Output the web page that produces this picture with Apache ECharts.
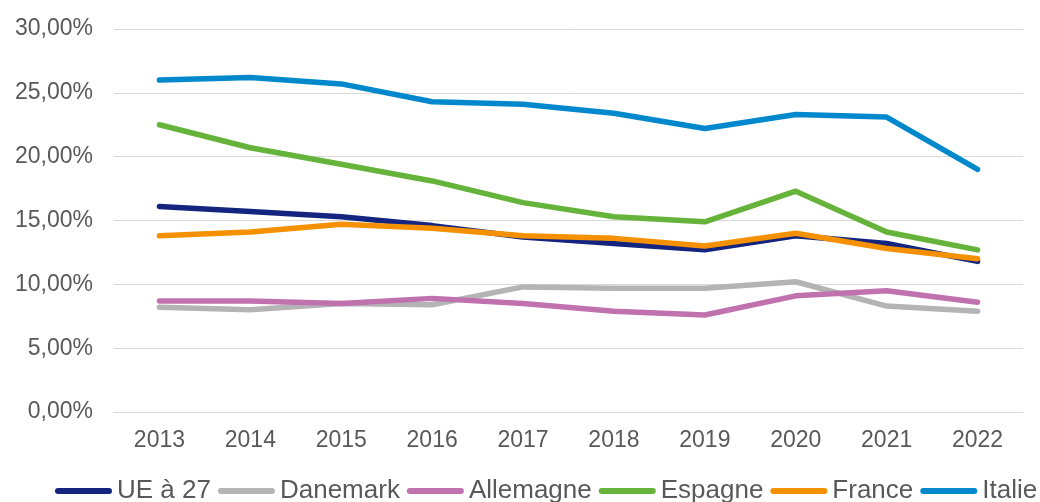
<!DOCTYPE html>
<html>
<head>
<meta charset="utf-8">
<script src="https://cdn.jsdelivr.net/npm/echarts@6/dist/echarts.min.js"></script>
<style>
  html, body { margin: 0; padding: 0; background: #ffffff; }
  #chart { width: 1040px; height: 502px; }
</style>
</head>
<body>
<div id="chart"></div>
<script>
var years = ['2013', '2014', '2015', '2016', '2017', '2018', '2019', '2020', '2021', '2022'];

var ue27 = [16.1, 15.7, 15.3, 14.6, 13.7, 13.2, 12.7, 13.8, 13.2, 11.8];
var danemark = [8.2, 8.0, 8.5, 8.4, 9.8, 9.7, 9.7, 10.2, 8.3, 7.9];
var allemagne = [8.7, 8.7, 8.5, 8.9, 8.5, 7.9, 7.6, 9.1, 9.5, 8.6];
var espagne = [22.5, 20.7, 19.4, 18.1, 16.4, 15.3, 14.9, 17.3, 14.1, 12.7];
var france = [13.8, 14.1, 14.7, 14.4, 13.8, 13.6, 13.0, 14.0, 12.8, 12.0];
var italie = [26.0, 26.2, 25.7, 24.3, 24.1, 23.4, 22.2, 23.3, 23.1, 19.0];

var seriesNames = ['UE à 27', 'Danemark', 'Allemagne', 'Espagne', 'France', 'Italie'];
var seriesData = [ue27, danemark, allemagne, espagne, france, italie];
var colors = ['#13257F', '#B4B4B4', '#C072AF', '#65B33A', '#F59100', '#0088CC'];

var chart = echarts.init(document.getElementById('chart'));

var series = seriesNames.map(function (name, i) {
    return {
        name: name,
        type: 'line',
        data: seriesData[i],
        symbol: 'none',
        lineStyle: { width: 5.5, color: colors[i], cap: 'round', join: 'round' },
        itemStyle: { color: colors[i] }
    };
});

var option = {
    animation: false,
    color: colors,
    grid: { left: 114, right: 17, top: 29, bottom: 90 },
    legend: {
        data: seriesNames,
        left: 55,
        right: 0,
        top: 478,
        padding: 0,
        icon: 'path://M3,0 L54,0 A3,3 0 0 1 54,6 L3,6 A3,3 0 0 1 3,0 Z',
        itemWidth: 57,
        itemHeight: 6,
        itemGap: 7,
        textStyle: { fontFamily: 'Liberation Sans, Arial', fontSize: 26, color: '#595959' }
    },
    xAxis: {
        type: 'category',
        data: years,
        boundaryGap: true,
        axisLine: { lineStyle: { color: '#D9D9D9', width: 1 } },
        axisTick: { show: false },
        axisLabel: { fontFamily: 'Liberation Sans, Arial', fontSize: 23, color: '#595959', margin: 17 }
    },
    yAxis: {
        type: 'value',
        min: 0,
        max: 30,
        interval: 5,
        axisLine: { show: false },
        axisTick: { show: false },
        splitLine: { lineStyle: { color: '#D9D9D9', width: 1 } },
        axisLabel: {
            fontFamily: 'Liberation Sans, Arial',
            fontSize: 23,
            color: '#595959',
            margin: 21,
            formatter: function (v) { return v.toFixed(2).replace('.', ',') + '%'; }
        }
    },
    series: series
};

chart.setOption(option);
</script>
</body>
</html>
